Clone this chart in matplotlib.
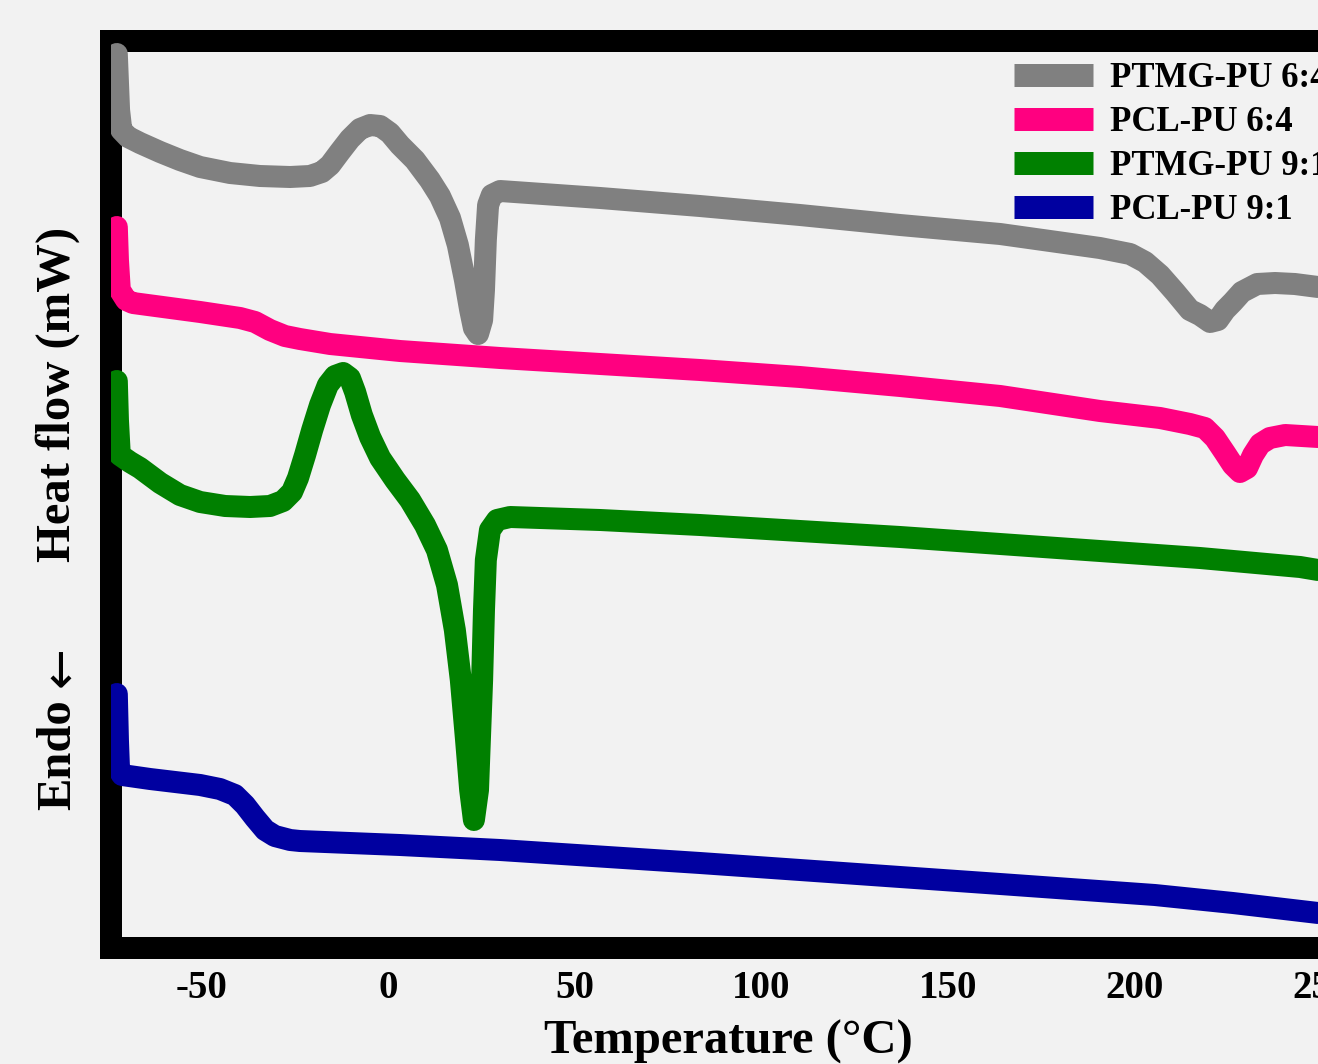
import matplotlib
matplotlib.use("Agg")
import matplotlib.pyplot as plt
from matplotlib.lines import Line2D

plt.rcParams['font.family'] = ['Liberation Serif', 'DejaVu Serif']
plt.rcParams['font.weight'] = 'bold'

# ---------------- data (temperature in degC, heat flow in arbitrary mW offset) ----------------
labels = ['PTMG-PU 6:4', 'PCL-PU 6:4', 'PTMG-PU 9:1', 'PCL-PU 9:1']
colors = ['#808080', '#FF0080', '#008000', '#0000A0']

temp_ptmg64 = [-72.6, -72.0, -71.4, -69.6, -66.4, -61.0, -55.7, -50.3, -42.3, -34.3, -26.2, -20.9,
               -17.7, -15.5, -12.9, -10.2, -7.5, -4.8, -2.1, 0.5, 3.2, 7.2, 11.2, 13.9, 16.6,
               18.7, 20.6, 22.0, 23.0, 24.1, 25.2, 25.7, 26.2, 26.8, 27.8, 30.0, 56.8, 83.5,
               110.3, 137.1, 163.9, 190.6, 198.7, 202.7, 206.7, 210.7, 214.7, 217.4, 220.1,
               222.2, 224.1, 226.2, 228.6, 232.7, 237.5, 242.8, 249.0]
hf_ptmg64 = [9.46, 8.90, 8.70, 8.63, 8.57, 8.48, 8.40, 8.33, 8.27, 8.24, 8.23, 8.24,
             8.28, 8.35, 8.48, 8.61, 8.71, 8.75, 8.74, 8.67, 8.55, 8.40, 8.20, 8.04, 7.82,
             7.55, 7.20, 6.90, 6.72, 6.66, 6.80, 7.10, 7.60, 7.95, 8.05, 8.09, 8.02, 7.94,
             7.85, 7.75, 7.66, 7.52, 7.46, 7.38, 7.25, 7.08, 6.90, 6.85, 6.78,
             6.80, 6.90, 6.98, 7.08, 7.16, 7.17, 7.16, 7.13]

temp_pcl64 = [-72.6, -72.3, -71.8, -70.1, -68.3, -50.3, -39.6, -35.6, -31.6, -27.6, -23.6, -15.5,
              -7.5, 3.2, 30.0, 56.8, 83.5, 110.3, 137.1, 163.9, 190.6, 206.7, 214.7, 218.7,
              221.4, 224.1, 226.2, 228.1, 230.0, 231.6, 233.5, 236.1, 240.2, 249.0]
hf_pcl64 = [7.73, 7.40, 7.10, 7.00, 6.97, 6.88, 6.82, 6.78, 6.70, 6.64, 6.61, 6.56,
            6.53, 6.49, 6.42, 6.36, 6.30, 6.23, 6.14, 6.04, 5.89, 5.82, 5.76, 5.72,
            5.62, 5.47, 5.35, 5.28, 5.32, 5.45, 5.56, 5.62, 5.65, 5.63]

temp_ptmg91 = [-72.6, -72.3, -71.8, -69.1, -66.4, -61.0, -55.7, -50.3, -43.6, -36.9, -31.6, -28.1,
               -25.7, -24.1, -22.2, -20.3, -18.2, -16.1, -14.2, -12.0, -10.2, -8.8, -7.0, -4.8,
               -2.1, 1.9, 5.9, 9.9, 13.1, 15.8, 17.9, 19.5, 20.9, 22.0, 23.0, 24.1, 24.6,
               25.2, 25.7, 26.2, 27.3, 29.2, 32.7, 56.8, 83.5, 110.3, 137.1, 163.9, 190.6,
               217.4, 244.2, 249.0]
hf_ptmg91 = [6.19, 5.80, 5.45, 5.38, 5.32, 5.17, 5.05, 4.98, 4.94, 4.93, 4.94, 4.99,
             5.08, 5.22, 5.45, 5.70, 5.95, 6.15, 6.24, 6.27, 6.22, 6.08, 5.85, 5.63,
             5.42, 5.20, 5.00, 4.75, 4.50, 4.15, 3.70, 3.20, 2.60, 2.10, 1.80, 2.10, 2.60,
             3.20, 3.90, 4.40, 4.70, 4.80, 4.83, 4.80, 4.75, 4.69, 4.63, 4.56, 4.49,
             4.42, 4.33, 4.30]

temp_pcl91 = [-72.6, -72.3, -72.0, -71.2, -63.7, -50.3, -45.0, -41.0, -38.3, -35.6, -32.9, -30.3,
              -26.2, -23.6, 3.2, 30.0, 83.5, 137.1, 163.9, 205.3, 226.2, 249.0]
hf_pcl91 = [3.06, 2.60, 2.30, 2.25, 2.21, 2.15, 2.11, 2.05, 1.95, 1.82, 1.70, 1.64,
            1.60, 1.59, 1.55, 1.50, 1.37, 1.23, 1.16, 1.05, 0.97, 0.87]

series_temp = [temp_ptmg64, temp_pcl64, temp_ptmg91, temp_pcl91]
series_hf = [hf_ptmg64, hf_pcl64, hf_ptmg91, hf_pcl91]
xticks = [-50, 0, 50, 100, 150, 200, 250]

# ---------------- figure ----------------
W, H = 1318, 1064
bg = '#F2F2F2'
fig = plt.figure(figsize=(W / 100, H / 100), dpi=100, facecolor=bg)
ax = fig.add_axes([111 / W, (H - 947.5) / H, (1359.1 - 111) / W, (947.5 - 41) / H])
ax.set_facecolor(bg)

lw = 22 * 0.72
for T, hf, c in zip(series_temp, series_hf, colors):
    ax.plot(T, hf, color=c, lw=lw, solid_capstyle='round', solid_joinstyle='round', zorder=3)

ax.set_xlim(-74.16, 260)
ax.set_ylim(0.525, 9.59)
ax.set_xticks(xticks)
ax.set_xticklabels([str(v) for v in xticks])
ax.set_yticks([])
ax.tick_params(axis='x', length=0, pad=16, labelsize=28)
for s in ['left', 'top', 'bottom']:
    ax.spines[s].set_linewidth(lw)
    ax.spines[s].set_color('black')
ax.spines['right'].set_visible(False)

handles = [Line2D([0], [0], color=c, lw=23 * 0.72, solid_capstyle='butt') for c in colors]
ax.legend(handles, labels, loc='upper left', bbox_to_anchor=(1014 / W, 1 - 62 / H),
          bbox_transform=fig.transFigure, frameon=False, fontsize=25,
          handlelength=2.275, handletextpad=0.49, labelspacing=0.315,
          borderpad=0, borderaxespad=0)

fig.text(58 / W, 1 - 394 / H, 'Heat flow (mW)', rotation=90, ha='center', va='center', fontsize=35)
fig.text(58 / W, 1 - 755 / H, 'Endo', rotation=90, ha='center', va='center', fontsize=35)
fig.text(60 / W, 1 - 667 / H, '\u2190', rotation=90, ha='center', va='center', fontsize=35,
         family=['DejaVu Sans'], fontweight='normal')
fig.text(728 / W, 10 / H, 'Temperature (\u00b0C)', ha='center', va='baseline', fontsize=35)

fig.savefig('out.png', dpi=100, facecolor=bg)
